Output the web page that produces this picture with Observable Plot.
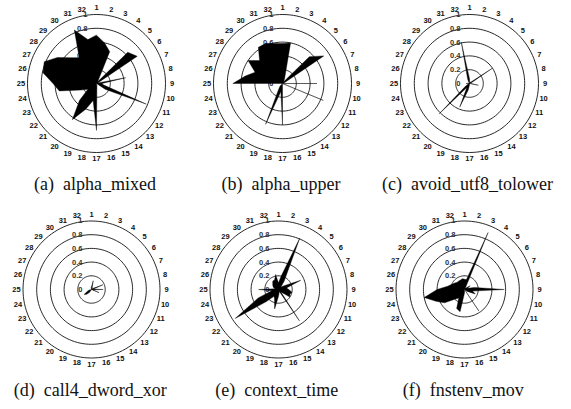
<!DOCTYPE html>
<html><head><meta charset="utf-8">
<script src="https://cdn.jsdelivr.net/npm/d3@7"></script>
<script src="https://cdn.jsdelivr.net/npm/@observablehq/plot@0.6"></script>
<style>
body{margin:0;background:#fff;}
#fig{position:relative;width:571px;height:409px;overflow:hidden;background:#fff;}
.panel{position:absolute;}
.cap{position:absolute;font-family:'Liberation Serif','DejaVu Serif','Times New Roman',Times,serif;font-size:18px;line-height:18px;color:#111;white-space:pre;transform:translateX(-50%);}
</style></head><body><div id="fig"></div>
<script>
// ---- data ----
const spokeLabels = ["1","2","3","4","5","6","7","8","9","10","11","12","13","14","15","16",
                     "17","18","19","20","21","22","23","24","25","26","27","28","29","30","31","32"];
const ringValues = [0.2, 0.4, 0.6, 0.8, 1];
const tickValues = [0, 0.2, 0.4, 0.6, 0.8, 1];
const tickLabels = ["0", "0.2", "0.4", "0.6", "0.8", "1"];
const chartLetters = ["(a)", "(b)", "(c)", "(d)", "(e)", "(f)"];
const chartNames = ["alpha_mixed", "alpha_upper", "avoid_utf8_tolower", "call4_dword_xor", "context_time", "fnstenv_mov"];

const alphaMixed = [0.70,0.60,0.50,0.03,0.64,0.71,0.02,0.43,0.08,0.10,0.78,0.15,0,0,0,0.03,
                    0.68,0.25,0.40,0.63,0.35,0.15,0.25,0.55,0.63,0.79,0.82,0.68,0.53,0.45,0.84,0.65];
const alphaUpper = [0.58,0.60,0.08,0.03,0.55,0.72,0.03,0,0.50,0,0.64,0,0,0,0,0,
                    0.60,0.12,0.64,0.10,0.05,0,0,0,0.72,0.55,0.43,0.60,0.47,0.63,0.63,0.59];
const avoidUtf8Tolower = [0.07,0.02,0,0.02,0.03,0.40,0.03,0,0.02,0.13,0,0,0,0,0,0,
                          0.02,0.10,0.37,0.07,0.62,0.07,0.02,0,0.05,0.02,0,0,0,0.02,0.07,0.60];
const call4DwordXor = [0.04,0.13,0.02,0.03,0,0.03,0.18,0.03,0.17,0.02,0.12,0,0,0,0,0,
                       0,0,0,0.05,0.10,0.13,0.06,0.03,0,0,0,0,0,0,0,0.02];
const contextTime = [0.10,0.20,0.81,0.15,0.05,0.10,0.35,0.12,0.15,0.20,0.18,0.20,0.05,0.55,0.03,0.05,
                     0.10,0.29,0.15,0.12,0.25,0.76,0.32,0.10,0.29,0.05,0.08,0.10,0.12,0.15,0.15,0.22];
const fnstenvMov = [0.15,0.15,0.90,0.02,0.03,0.10,0.05,0.15,0.58,0.12,0.17,0.05,0,0.38,0,0,
                    0.05,0.33,0.30,0.15,0.20,0.35,0.45,0.60,0.40,0.25,0.20,0.17,0.15,0.15,0.15,0.16];
const seriesList = [alphaMixed, alphaUpper, avoidUtf8Tolower, call4DwordXor, contextTime, fnstenvMov];

// ---- layout ----
const panelPos = [
  {cx: 96, cy: 82.8, R: 69, capY: 175},
  {cx: 282, cy: 82.7, R: 69, capY: 175},
  {cx: 468.5, cy: 82.7, R: 69, capY: 175},
  {cx: 91.3, cy: 288.8, R: 68.5, capY: 381},
  {cx: 277.7, cy: 288.8, R: 68.5, capY: 381},
  {cx: 464.3, cy: 288.8, R: 68.5, capY: 381}
];
const W = 186, H = 172, HX = 93, HY = 86;
const n = spokeLabels.length;
const ang = i => (i / n) * 2 * Math.PI;
const fig = document.getElementById("fig");
const font = "'Liberation Sans', Arial, sans-serif";

const circleSteps = d3.range(0, 360, 3);
const ringPts = ringValues.flatMap(r => circleSteps.map(a => ({r, a: a * Math.PI / 180})));

seriesList.forEach((vals, k) => {
  const p = panelPos[k];
  const R = p.R;
  const LR = 1 + 6.5 / R;
  const chart = Plot.plot({
    width: W, height: H, margin: 0,
    x: {domain: [-HX / R, HX / R], axis: null},
    y: {domain: [-(H - HY) / R, HY / R], axis: null},
    style: {background: "transparent", overflow: "visible", fontFamily: font},
    marks: [
      Plot.line(ringPts, {x: d => d.r * Math.sin(d.a), y: d => d.r * Math.cos(d.a), z: "r",
        curve: "linear-closed", stroke: "#111", strokeWidth: 0.9}),
      Plot.text(tickValues, {x: () => 0, y: d => d, text: (d, i) => tickLabels[i],
        textAnchor: "end", dx: -9, fontSize: 7.5, fontWeight: "bold", fill: "#333", fontFamily: font}),
      Plot.text(spokeLabels, {x: (d, i) => LR * Math.sin(ang(i)), y: (d, i) => LR * Math.cos(ang(i)),
        text: d => d, fontSize: 7.5, fontWeight: "bold", fill: "#111", fontFamily: font}),
      Plot.line(vals, {x: (v, i) => v * Math.sin(ang(i)), y: (v, i) => v * Math.cos(ang(i)),
        curve: "linear-closed", fill: "#000", stroke: "#000", strokeWidth: 0.4})
    ]
  });
  const div = document.createElement("div");
  div.className = "panel";
  div.style.left = (p.cx - HX) + "px";
  div.style.top = (p.cy - HY) + "px";
  div.appendChild(chart);
  fig.appendChild(div);
  const cap = document.createElement("div");
  cap.className = "cap";
  cap.style.left = (p.cx - 1) + "px";
  cap.style.top = p.capY + "px";
  cap.textContent = chartLetters[k] + "  " + chartNames[k];
  fig.appendChild(cap);
});
</script></body></html>
